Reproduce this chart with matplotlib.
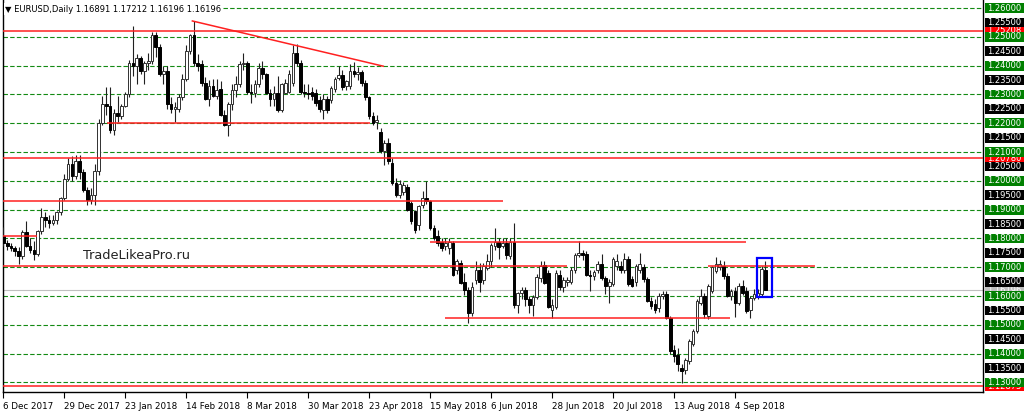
import matplotlib
matplotlib.use("Agg")
import matplotlib.pyplot as plt
import matplotlib.transforms as mtransforms
from matplotlib.patches import Rectangle
import numpy as np

plt.rcParams["font.family"] = ["DejaVu Sans"]

# ---- daily EURUSD candles ----
open_ = [
    1.1810, 1.1785, 1.1772, 1.1765, 1.1755, 1.1740, 1.1822, 1.1775, 1.1760, 1.1745,
    1.1825, 1.1875, 1.1865, 1.1855, 1.1865, 1.1890, 1.1940, 1.2005, 1.2060, 1.2015,
    1.2070, 1.2030, 1.1968, 1.1935, 1.1950, 1.2035, 1.2200, 1.2265, 1.2260, 1.2175,
    1.2235, 1.2225, 1.2260, 1.2300, 1.2410, 1.2398, 1.2425, 1.2380, 1.2410, 1.2415,
    1.2505, 1.2465, 1.2370, 1.2380, 1.2265, 1.2250, 1.2250, 1.2290, 1.2355, 1.2450,
    1.2505, 1.2408, 1.2405, 1.2340, 1.2285, 1.2330, 1.2295, 1.2318, 1.2230, 1.2195,
    1.2265, 1.2315, 1.2335, 1.2405, 1.2410, 1.2310, 1.2305, 1.2335, 1.2390, 1.2370,
    1.2305, 1.2285, 1.2305, 1.2245, 1.2305, 1.2310, 1.2340, 1.2445, 1.2410, 1.2310,
    1.2305, 1.2310, 1.2305, 1.2280, 1.2245, 1.2285, 1.2282, 1.2320, 1.2357, 1.2368,
    1.2330, 1.2330, 1.2380, 1.2370, 1.2378, 1.2340, 1.2290, 1.2225, 1.2205, 1.2170,
    1.2103, 1.2130, 1.2062, 1.1992, 1.1952, 1.1960, 1.1980, 1.1923, 1.1894, 1.1847,
    1.1917, 1.1940, 1.1929, 1.1836, 1.1807, 1.1789, 1.1772, 1.1766, 1.1784, 1.1691,
    1.1714, 1.1650, 1.1621, 1.1540, 1.1656, 1.1691, 1.1656, 1.1697, 1.1720, 1.1772,
    1.1789, 1.1772, 1.1784, 1.1740, 1.1789, 1.1569, 1.1610, 1.1620, 1.1590, 1.1569,
    1.1598, 1.1662, 1.1708, 1.1679, 1.1552, 1.1563, 1.1674, 1.1633, 1.1650, 1.1650,
    1.1691, 1.1743, 1.1750, 1.1745, 1.1672, 1.1668, 1.1690, 1.1710, 1.1664, 1.1635,
    1.1641, 1.1705, 1.1705, 1.1690, 1.1728, 1.1658, 1.1647, 1.1690, 1.1699, 1.1658,
    1.1583, 1.1571, 1.1559, 1.1600, 1.1606, 1.1524, 1.1414, 1.1395, 1.1350, 1.1344,
    1.1373, 1.1435, 1.1478, 1.1577, 1.1600, 1.1530, 1.1617, 1.1687, 1.1699, 1.1705,
    1.1670, 1.1600, 1.1617, 1.1577, 1.1635, 1.1617, 1.1553, 1.1594, 1.1600, 1.1606,
    1.16891,
]
high = [
    1.1840, 1.1795, 1.1785, 1.1775, 1.1770, 1.1830, 1.1860, 1.1800, 1.1790, 1.1830,
    1.1905, 1.1890, 1.1880, 1.1880, 1.1895, 1.1945, 1.2025, 1.2080, 1.2085, 1.2090,
    1.2090, 1.2040, 1.1980, 1.1975, 1.2060, 1.2215, 1.2295, 1.2325, 1.2325, 1.2250,
    1.2295, 1.2265, 1.2310, 1.2420, 1.2537, 1.2440, 1.2435, 1.2415, 1.2445, 1.2515,
    1.2515, 1.2475, 1.2400, 1.2400, 1.2290, 1.2275, 1.2300, 1.2370, 1.2470, 1.2510,
    1.2555, 1.2440, 1.2420, 1.2360, 1.2350, 1.2355, 1.2355, 1.2345, 1.2245, 1.2275,
    1.2335, 1.2365, 1.2415, 1.2445, 1.2415, 1.2335, 1.2350, 1.2410, 1.2415, 1.2375,
    1.2320, 1.2330, 1.2365, 1.2340, 1.2355, 1.2385, 1.2470, 1.2475, 1.2420, 1.2335,
    1.2335, 1.2325, 1.2320, 1.2295, 1.2300, 1.2295, 1.2330, 1.2360, 1.2398, 1.2385,
    1.2350, 1.2405, 1.2412, 1.2395, 1.2385, 1.2350, 1.2295, 1.2240, 1.2230, 1.2185,
    1.2140, 1.2150, 1.2080, 1.2010, 1.2004, 1.1995, 1.1990, 1.1930, 1.1900, 1.1915,
    1.1963, 1.1998, 1.1935, 1.1845, 1.1830, 1.1800, 1.1800, 1.1800, 1.1790, 1.1730,
    1.1725, 1.1680, 1.1630, 1.1650, 1.1720, 1.1715, 1.1715, 1.1745, 1.1785, 1.1836,
    1.1800, 1.1800, 1.1800, 1.1800, 1.1852, 1.1615, 1.1630, 1.1632, 1.1600, 1.1605,
    1.1675, 1.1720, 1.1720, 1.1690, 1.1590, 1.1690, 1.1690, 1.1665, 1.1665, 1.1700,
    1.1750, 1.1792, 1.1760, 1.1755, 1.1690, 1.1690, 1.1720, 1.1745, 1.1670, 1.1660,
    1.1735, 1.1745, 1.1720, 1.1748, 1.1740, 1.1670, 1.1710, 1.1748, 1.1710, 1.1665,
    1.1595, 1.1590, 1.1610, 1.1618, 1.1618, 1.1530, 1.1430, 1.1420, 1.1365, 1.1385,
    1.1450, 1.1485, 1.1590, 1.1625, 1.1610, 1.1640, 1.1705, 1.1734, 1.1725, 1.1720,
    1.1680, 1.1625, 1.1630, 1.1645, 1.1655, 1.1630, 1.1600, 1.1625, 1.1625, 1.1705,
    1.17212,
]
low = [
    1.1772, 1.1760, 1.1755, 1.1740, 1.1712, 1.1730, 1.1770, 1.1748, 1.1725, 1.1740,
    1.1815, 1.1840, 1.1835, 1.1845, 1.1850, 1.1880, 1.1935, 1.2000, 1.2000, 1.2005,
    1.2005, 1.1960, 1.1915, 1.1920, 1.1915, 1.2020, 1.2195, 1.2230, 1.2165, 1.2160,
    1.2205, 1.2215, 1.2255, 1.2290, 1.2365, 1.2335, 1.2370, 1.2335, 1.2385, 1.2405,
    1.2430, 1.2365, 1.2335, 1.2250, 1.2235, 1.2205, 1.2240, 1.2280, 1.2345, 1.2440,
    1.2400, 1.2380, 1.2330, 1.2280, 1.2260, 1.2290, 1.2285, 1.2225, 1.2190, 1.2155,
    1.2245, 1.2290, 1.2325, 1.2385, 1.2300, 1.2270, 1.2290, 1.2325, 1.2355, 1.2300,
    1.2260, 1.2260, 1.2240, 1.2240, 1.2300, 1.2305, 1.2330, 1.2400, 1.2300, 1.2290,
    1.2285, 1.2280, 1.2260, 1.2240, 1.2215, 1.2235, 1.2270, 1.2310, 1.2350, 1.2315,
    1.2315, 1.2320, 1.2360, 1.2350, 1.2330, 1.2280, 1.2215, 1.2195, 1.2180, 1.2095,
    1.2055, 1.2060, 1.1985, 1.1945, 1.1940, 1.1950, 1.1895, 1.1850, 1.1820, 1.1830,
    1.1905, 1.1920, 1.1830, 1.1795, 1.1775, 1.1755, 1.1760, 1.1745, 1.1670, 1.1675,
    1.1640, 1.1605, 1.1508, 1.1530, 1.1640, 1.1615, 1.1640, 1.1690, 1.1700, 1.1760,
    1.1730, 1.1765, 1.1730, 1.1730, 1.1560, 1.1540, 1.1590, 1.1565, 1.1540, 1.1530,
    1.1590, 1.1650, 1.1640, 1.1560, 1.1525, 1.1555, 1.1620, 1.1615, 1.1635, 1.1640,
    1.1680, 1.1735, 1.1725, 1.1670, 1.1617, 1.1655, 1.1680, 1.1655, 1.1606, 1.1577,
    1.1635, 1.1690, 1.1680, 1.1680, 1.1635, 1.1630, 1.1635, 1.1680, 1.1650, 1.1580,
    1.1555, 1.1540, 1.1545, 1.1590, 1.1520, 1.1400, 1.1370, 1.1340, 1.1298, 1.1330,
    1.1365, 1.1425, 1.1470, 1.1570, 1.1525, 1.1520, 1.1610, 1.1680, 1.1690, 1.1660,
    1.1595, 1.1585, 1.1527, 1.1570, 1.1605, 1.1540, 1.1524, 1.1585, 1.1590, 1.1600,
    1.16196,
]
close = [
    1.1785, 1.1772, 1.1765, 1.1755, 1.1740, 1.1822, 1.1775, 1.1760, 1.1745, 1.1825,
    1.1875, 1.1865, 1.1855, 1.1865, 1.1890, 1.1940, 1.2005, 1.2060, 1.2015, 1.2070,
    1.2030, 1.1968, 1.1935, 1.1950, 1.2035, 1.2200, 1.2265, 1.2260, 1.2175, 1.2235,
    1.2225, 1.2260, 1.2300, 1.2410, 1.2398, 1.2425, 1.2380, 1.2410, 1.2415, 1.2505,
    1.2465, 1.2370, 1.2380, 1.2265, 1.2250, 1.2255, 1.2290, 1.2355, 1.2450, 1.2505,
    1.2408, 1.2400, 1.2340, 1.2285, 1.2330, 1.2295, 1.2315, 1.2230, 1.2195, 1.2265,
    1.2315, 1.2335, 1.2405, 1.2410, 1.2310, 1.2305, 1.2335, 1.2390, 1.2370, 1.2305,
    1.2285, 1.2305, 1.2245, 1.2335, 1.2340, 1.2370, 1.2445, 1.2410, 1.2310, 1.2305,
    1.2300, 1.2295, 1.2270, 1.2250, 1.2285, 1.2245, 1.2322, 1.2355, 1.2368, 1.2325,
    1.2345, 1.2380, 1.2370, 1.2378, 1.2340, 1.2290, 1.2225, 1.2200, 1.2210, 1.2105,
    1.2130, 1.2068, 1.1992, 1.1952, 1.1990, 1.1985, 1.1900, 1.1859, 1.1830, 1.1911,
    1.1940, 1.1929, 1.1836, 1.1801, 1.1784, 1.1766, 1.1785, 1.1789, 1.1674, 1.1720,
    1.1645, 1.1621, 1.1540, 1.1633, 1.1691, 1.1650, 1.1703, 1.1720, 1.1778, 1.1789,
    1.1770, 1.1784, 1.1743, 1.1789, 1.1569, 1.1610, 1.1620, 1.1590, 1.1569, 1.1598,
    1.1665, 1.1703, 1.1645, 1.1563, 1.1569, 1.1679, 1.1633, 1.1656, 1.1656, 1.1691,
    1.1743, 1.1750, 1.1742, 1.1672, 1.1670, 1.1682, 1.1710, 1.1664, 1.1635, 1.1650,
    1.1728, 1.1722, 1.1690, 1.1728, 1.1641, 1.1635, 1.1705, 1.1710, 1.1658, 1.1583,
    1.1565, 1.1553, 1.1600, 1.1606, 1.1524, 1.1408, 1.1391, 1.1365, 1.1338, 1.1379,
    1.1443, 1.1478, 1.1583, 1.1600, 1.1536, 1.1635, 1.1699, 1.1710, 1.1710, 1.1670,
    1.1600, 1.1617, 1.1577, 1.1635, 1.1612, 1.1548, 1.1594, 1.1606, 1.1612, 1.1693,
    1.16196,
]

date_ticks = [0, 16, 32, 48, 64, 80, 96, 112, 128, 144, 160, 176, 192]
date_labels = ["6 Dec 2017", "29 Dec 2017", "23 Jan 2018", "14 Feb 2018", "8 Mar 2018",
               "30 Mar 2018", "23 Apr 2018", "15 May 2018", "6 Jun 2018", "28 Jun 2018",
               "20 Jul 2018", "13 Aug 2018", "4 Sep 2018"]

# horizontal levels drawn on the chart
green_levels = [1.26, 1.25, 1.24, 1.23, 1.22, 1.21, 1.20, 1.19, 1.18, 1.17, 1.16, 1.15, 1.14, 1.13]
black_levels = [1.255, 1.245, 1.235, 1.225, 1.215, 1.205, 1.195, 1.185, 1.175, 1.165,
                1.155, 1.145, 1.135]
red_full = [1.25208, 1.20780, 1.12875]
red_seg_level = [1.2200, 1.1930, 1.1810, 1.1704, 1.1704, 1.1787, 1.1524]
red_seg_from = [27.3, -1, -1, -1, 185, 112, 116]
red_seg_to = [96.3, 131, 8.9, 148, 212.9, 194.8, 190.8]
trend_x = [49.6, 99.7]
trend_y = [1.2555, 1.2398]
bid = 1.16196
title = "\u25bc EURUSD,Daily 1.16891 1.17212 1.16196 1.16196"

o = np.array(open_)
h = np.array(high)
l = np.array(low)
c = np.array(close)
x = np.arange(len(c))

fig = plt.figure(figsize=(10.24, 4.12), dpi=100)
ax = fig.add_axes([3 / 1024, 20 / 412, 980 / 1024, 392 / 412])
ax.set_xlim(-0.1, 257.1)
ax.set_ylim(1.12667, 1.26278)

# grid-like levels
for lv in green_levels:
    ax.axhline(lv, color="#138a13", lw=0.8, ls=(0, (4, 2)), zorder=2)
ax.axhline(bid, color="#c0c0c0", lw=0.8, zorder=2)

# candles
up = c >= o
ax.vlines(x, l, h, color="#202020", lw=0.8, zorder=3)
ax.bar(x[up], (c - o)[up], bottom=o[up], width=0.7, color="white",
       edgecolor="#303030", lw=0.7, zorder=4)
ax.bar(x[~up], (o - c)[~up], bottom=c[~up], width=0.7, color="black",
       edgecolor="black", lw=0.7, zorder=4)

# red lines
for lv in red_full:
    ax.axhline(lv, color="#ff2020", lw=1.1, zorder=5)
ax.hlines(red_seg_level, red_seg_from, red_seg_to, color="#ff2020", lw=1.1, zorder=5)
ax.plot(trend_x, trend_y, color="#ff2020", lw=1.1, zorder=5)

# blue box round the last two candles
ax.add_patch(Rectangle((197.9, 1.15965), 3.9, 0.0135, fill=False,
                       ec="#0000ff", lw=1.6, zorder=6))

ax.text(21, 1.1742, "TradeLikeaPro.ru", fontsize=9.3, color="#222222",
        va="center", ha="left", zorder=6)

# price labels on the right
trans = mtransforms.blended_transform_factory(ax.transAxes, ax.transData)
def price_label(lv, fc, z):
    ax.add_patch(Rectangle((1.002, lv - 0.0017), 0.0398, 0.0034, transform=trans,
                           fc=fc, ec="none", clip_on=False, zorder=z))
    ax.text(1.022, lv, "%.5f" % lv, transform=trans, fontsize=6, color="white",
            ha="center", va="center", clip_on=False, zorder=z + 0.5)

for lv in red_full:
    price_label(lv, "#ff0000", 10)
price_label(bid, "#c0c0c0", 10)
for lv in black_levels:
    price_label(lv, "black", 12)
for lv in green_levels:
    price_label(lv, "#008000", 12)

ax.set_yticks([])
ax.set_xticks(date_ticks)
ax.set_xticklabels(date_labels, ha="left", fontsize=6.3)
ax.tick_params(axis="x", length=4, direction="out", pad=3, width=0.8)
ax.spines["top"].set_visible(False)
for s in ["left", "right", "bottom"]:
    ax.spines[s].set_linewidth(1.0)

fig.text(5 / 1024, 1 - 9 / 412, title, fontsize=6, va="center", ha="left",
         bbox=dict(fc="white", ec="none", pad=1))

fig.savefig("out.png", dpi=100)
